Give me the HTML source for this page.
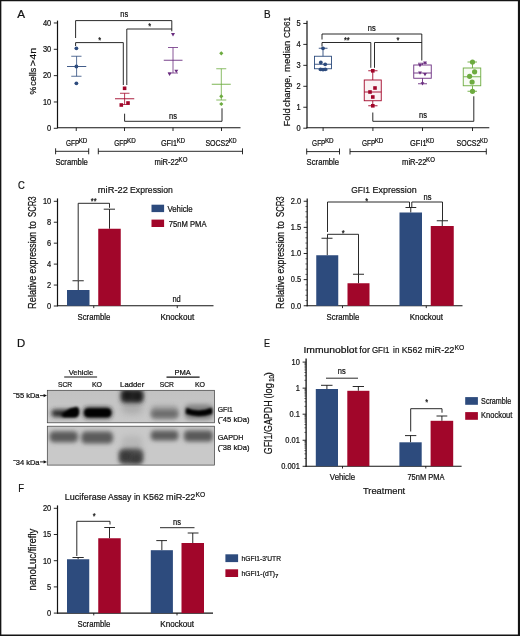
<!DOCTYPE html>
<html><head><meta charset="utf-8"><title>Figure</title>
<style>
html,body{margin:0;padding:0;background:#fff;}
body{width:520px;height:636px;overflow:hidden;position:relative;font-family:"Liberation Sans",sans-serif;}
svg{position:absolute;left:0;top:0;display:block;}
svg text{font-family:"Liberation Sans",sans-serif;stroke:#111;stroke-width:0.22px;}
</style></head><body>
<svg width="520" height="636" viewBox="0 0 520 636">
<rect x="0" y="0" width="520" height="636" fill="#fff"/>
<g opacity="0.996">
<text transform="translate(17.20 18.10) scale(1.0215 1)" font-size="11.45" fill="#111">A</text>
<text transform="translate(264.00 17.80) scale(0.8643 1)" font-size="11.45" fill="#111">B</text>
<text transform="translate(18.00 189.40) scale(0.8225 1)" font-size="11.45" fill="#111">C</text>
<text transform="translate(17.00 347.30) scale(0.9918 1)" font-size="11.45" fill="#111">D</text>
<text transform="translate(264.10 347.20) scale(0.7857 1)" font-size="11.45" fill="#111">E</text>
<text transform="translate(18.20 492.30) scale(0.8295 1)" font-size="11.45" fill="#111">F</text>
<line x1="57.50" y1="20.60" x2="57.50" y2="128.20" stroke="#111" stroke-width="1.20"/>
<line x1="57.00" y1="127.70" x2="240.50" y2="127.70" stroke="#111" stroke-width="1.10"/>
<line x1="53.80" y1="128.30" x2="57.50" y2="128.30" stroke="#111" stroke-width="0.90"/>
<text transform="translate(47.05 131.10) scale(0.9151 1)" font-size="8.16" fill="#111">0</text>
<line x1="53.80" y1="101.97" x2="57.50" y2="101.97" stroke="#111" stroke-width="0.90"/>
<text transform="translate(42.89 104.77) scale(0.9151 1)" font-size="8.16" fill="#111">10</text>
<line x1="53.80" y1="75.64" x2="57.50" y2="75.64" stroke="#111" stroke-width="0.90"/>
<text transform="translate(42.89 78.44) scale(0.9151 1)" font-size="8.16" fill="#111">20</text>
<line x1="53.80" y1="49.31" x2="57.50" y2="49.31" stroke="#111" stroke-width="0.90"/>
<text transform="translate(42.89 52.11) scale(0.9151 1)" font-size="8.16" fill="#111">30</text>
<line x1="53.80" y1="22.98" x2="57.50" y2="22.98" stroke="#111" stroke-width="0.90"/>
<text transform="translate(42.89 25.78) scale(0.9151 1)" font-size="8.16" fill="#111">40</text>
<line x1="76.25" y1="127.70" x2="76.25" y2="131.00" stroke="#111" stroke-width="0.90"/>
<line x1="124.50" y1="127.70" x2="124.50" y2="131.00" stroke="#111" stroke-width="0.90"/>
<line x1="173.00" y1="127.70" x2="173.00" y2="131.00" stroke="#111" stroke-width="0.90"/>
<line x1="221.50" y1="127.70" x2="221.50" y2="131.00" stroke="#111" stroke-width="0.90"/>
<text transform="translate(36.30 94.20) rotate(-90) translate(-0.40 0) scale(0.8803 1)" font-size="9.96" fill="#111">%</text>
<text transform="translate(36.30 85.40) rotate(-90) translate(-0.40 0) scale(0.9131 1)" font-size="9.96" fill="#111">cells</text>
<text transform="translate(36.30 65.80) rotate(-90) translate(-0.40 0) scale(1.0887 1)" font-size="9.96" fill="#111">&gt;4n</text>
<line x1="67.00" y1="66.50" x2="86.25" y2="66.50" stroke="#2c4a7c" stroke-width="0.90"/>
<line x1="76.60" y1="56.25" x2="76.60" y2="76.25" stroke="#2c4a7c" stroke-width="0.80"/>
<line x1="71.25" y1="56.25" x2="81.50" y2="56.25" stroke="#2c4a7c" stroke-width="0.80"/>
<line x1="71.25" y1="76.25" x2="81.50" y2="76.25" stroke="#2c4a7c" stroke-width="0.80"/>
<circle cx="76.40" cy="48.30" r="1.90" fill="#2c4a7c"/>
<circle cx="76.40" cy="66.50" r="1.90" fill="#2c4a7c"/>
<circle cx="76.40" cy="83.30" r="1.90" fill="#2c4a7c"/>
<line x1="115.00" y1="98.75" x2="134.25" y2="98.75" stroke="#a10529" stroke-width="0.90"/>
<line x1="124.60" y1="93.25" x2="124.60" y2="104.50" stroke="#a10529" stroke-width="0.80"/>
<line x1="120.00" y1="93.25" x2="129.50" y2="93.25" stroke="#a10529" stroke-width="0.80"/>
<line x1="120.00" y1="104.50" x2="129.50" y2="104.50" stroke="#a10529" stroke-width="0.80"/>
<rect x="122.80" y="86.50" width="3.60" height="3.60" fill="#a10529"/>
<rect x="119.50" y="103.20" width="3.60" height="3.60" fill="#a10529"/>
<rect x="126.20" y="101.20" width="3.60" height="3.60" fill="#a10529"/>
<line x1="163.75" y1="60.25" x2="182.50" y2="60.25" stroke="#6a2c7f" stroke-width="0.90"/>
<line x1="173.00" y1="47.50" x2="173.00" y2="73.00" stroke="#6a2c7f" stroke-width="0.80"/>
<line x1="168.00" y1="47.50" x2="178.00" y2="47.50" stroke="#6a2c7f" stroke-width="0.80"/>
<line x1="168.00" y1="73.00" x2="178.00" y2="73.00" stroke="#6a2c7f" stroke-width="0.80"/>
<path d="M171.00 33.00 L175.00 33.00 L173.00 36.40 Z" fill="#6a2c7f"/>
<path d="M167.60 72.60 L171.60 72.60 L169.60 76.00 Z" fill="#6a2c7f"/>
<path d="M174.30 69.70 L178.30 69.70 L176.30 73.10 Z" fill="#6a2c7f"/>
<line x1="211.75" y1="84.25" x2="230.75" y2="84.25" stroke="#6cab3f" stroke-width="0.90"/>
<line x1="221.30" y1="68.75" x2="221.30" y2="100.00" stroke="#6cab3f" stroke-width="0.80"/>
<line x1="216.25" y1="68.75" x2="226.25" y2="68.75" stroke="#6cab3f" stroke-width="0.80"/>
<line x1="216.25" y1="100.00" x2="226.25" y2="100.00" stroke="#6cab3f" stroke-width="0.80"/>
<path d="M219.20 53.30 L221.30 51.20 L223.40 53.30 L221.30 55.40 Z" fill="#6cab3f"/>
<path d="M219.20 96.30 L221.30 94.20 L223.40 96.30 L221.30 98.40 Z" fill="#6cab3f"/>
<path d="M219.20 104.00 L221.30 101.90 L223.40 104.00 L221.30 106.10 Z" fill="#6cab3f"/>
<path d="M75.6 38 V20.6 H171.8 V31.3" stroke="#111" stroke-width="0.90" fill="none"/>
<path d="M75.6 46 V42.6 H123.3 V85" stroke="#111" stroke-width="0.90" fill="none"/>
<path d="M126.8 85 V29 H171.8" stroke="#111" stroke-width="0.90" fill="none"/>
<path d="M124.6 113.7 V121.3 H222 V108.3" stroke="#111" stroke-width="0.90" fill="none"/>
<text transform="translate(120.36 16.90) scale(0.9151 1)" font-size="8.16" fill="#111">ns</text>
<text transform="translate(98.15 42.70) scale(0.9151 1)" font-size="8.16" fill="#111">*</text>
<text transform="translate(148.15 29.30) scale(0.9151 1)" font-size="8.16" fill="#111">*</text>
<text transform="translate(169.06 118.50) scale(0.9151 1)" font-size="8.16" fill="#111">ns</text>
<text transform="translate(65.90 145.50) scale(0.7927 1)" font-size="8.16" fill="#111">GFP</text>
<text transform="translate(78.70 142.50) scale(0.9837 1)" font-size="6.37" fill="#111">KD</text>
<text transform="translate(114.20 145.50) scale(0.7927 1)" font-size="8.16" fill="#111">GFP</text>
<text transform="translate(127.00 142.50) scale(0.9837 1)" font-size="6.37" fill="#111">KD</text>
<text transform="translate(160.90 145.50) scale(0.8986 1)" font-size="8.16" fill="#111">GFI1</text>
<text transform="translate(176.70 142.50) scale(0.9272 1)" font-size="6.37" fill="#111">KD</text>
<text transform="translate(205.40 145.50) scale(0.8601 1)" font-size="8.16" fill="#111">SOCS2</text>
<text transform="translate(228.70 142.50) scale(0.8819 1)" font-size="6.37" fill="#111">KD</text>
<path d="M55.6 148.3 V154.3 M55.6 151.3 H88.7 M88.7 148.3 V154.3" stroke="#111" stroke-width="0.90" fill="none"/>
<path d="M98.3 148.3 V154.3 M98.3 151.3 H242.5 M242.5 148.3 V154.3" stroke="#111" stroke-width="0.90" fill="none"/>
<text transform="translate(55.40 164.80) scale(0.9428 1)" font-size="8.16" fill="#111">Scramble</text>
<text transform="translate(154.60 165.00) scale(0.9315 1)" font-size="8.16" fill="#111">miR-22</text>
<text transform="translate(178.60 162.00) scale(0.9567 1)" font-size="6.37" fill="#111">KO</text>
<line x1="307.00" y1="20.70" x2="307.00" y2="128.20" stroke="#111" stroke-width="1.20"/>
<line x1="306.50" y1="127.70" x2="489.30" y2="127.70" stroke="#111" stroke-width="1.10"/>
<line x1="303.30" y1="128.20" x2="307.00" y2="128.20" stroke="#111" stroke-width="0.90"/>
<text transform="translate(296.55 131.00) scale(0.9151 1)" font-size="8.16" fill="#111">0</text>
<line x1="303.30" y1="107.25" x2="307.00" y2="107.25" stroke="#111" stroke-width="0.90"/>
<text transform="translate(296.55 110.05) scale(0.9151 1)" font-size="8.16" fill="#111">1</text>
<line x1="303.30" y1="86.30" x2="307.00" y2="86.30" stroke="#111" stroke-width="0.90"/>
<text transform="translate(296.55 89.10) scale(0.9151 1)" font-size="8.16" fill="#111">2</text>
<line x1="303.30" y1="65.35" x2="307.00" y2="65.35" stroke="#111" stroke-width="0.90"/>
<text transform="translate(296.55 68.15) scale(0.9151 1)" font-size="8.16" fill="#111">3</text>
<line x1="303.30" y1="44.40" x2="307.00" y2="44.40" stroke="#111" stroke-width="0.90"/>
<text transform="translate(296.55 47.20) scale(0.9151 1)" font-size="8.16" fill="#111">4</text>
<line x1="303.30" y1="23.45" x2="307.00" y2="23.45" stroke="#111" stroke-width="0.90"/>
<text transform="translate(296.55 26.25) scale(0.9151 1)" font-size="8.16" fill="#111">5</text>
<line x1="323.10" y1="127.70" x2="323.10" y2="131.00" stroke="#111" stroke-width="0.90"/>
<line x1="372.90" y1="127.70" x2="372.90" y2="131.00" stroke="#111" stroke-width="0.90"/>
<line x1="422.50" y1="127.70" x2="422.50" y2="131.00" stroke="#111" stroke-width="0.90"/>
<line x1="472.50" y1="127.70" x2="472.50" y2="131.00" stroke="#111" stroke-width="0.90"/>
<text transform="translate(289.90 126.10) rotate(-90) translate(-0.40 0) scale(0.9390 1)" font-size="9.96" fill="#111">Fold</text>
<text transform="translate(289.90 106.30) rotate(-90) translate(-0.40 0) scale(0.8856 1)" font-size="9.96" fill="#111">change,</text>
<text transform="translate(289.90 71.50) rotate(-90) translate(-0.40 0) scale(0.9609 1)" font-size="9.96" fill="#111">median</text>
<text transform="translate(289.90 37.60) rotate(-90) translate(-0.40 0) scale(0.8283 1)" font-size="9.96" fill="#111">CD61</text>
<rect x="314.50" y="56.25" width="17.00" height="12.50" fill="#2c4a7c" fill-opacity="0.00" stroke="#2c4a7c" stroke-width="0.9"/>
<line x1="314.50" y1="64.25" x2="331.50" y2="64.25" stroke="#2c4a7c" stroke-width="0.90"/>
<line x1="323.00" y1="48.25" x2="323.00" y2="56.25" stroke="#2c4a7c" stroke-width="0.90"/>
<line x1="323.00" y1="68.75" x2="323.00" y2="70.00" stroke="#2c4a7c" stroke-width="0.90"/>
<line x1="318.75" y1="48.25" x2="327.50" y2="48.25" stroke="#2c4a7c" stroke-width="0.90"/>
<line x1="318.75" y1="70.00" x2="327.50" y2="70.00" stroke="#2c4a7c" stroke-width="0.90"/>
<circle cx="323.00" cy="48.30" r="1.90" fill="#2c4a7c"/>
<circle cx="320.80" cy="62.50" r="1.90" fill="#2c4a7c"/>
<circle cx="325.20" cy="64.30" r="1.90" fill="#2c4a7c"/>
<circle cx="320.60" cy="69.30" r="1.90" fill="#2c4a7c"/>
<circle cx="323.00" cy="69.60" r="1.90" fill="#2c4a7c"/>
<circle cx="325.30" cy="69.30" r="1.90" fill="#2c4a7c"/>
<rect x="364.25" y="80.00" width="17.00" height="20.75" fill="#a10529" fill-opacity="0.05" stroke="#a10529" stroke-width="0.9"/>
<line x1="364.25" y1="92.00" x2="381.25" y2="92.00" stroke="#a10529" stroke-width="0.90"/>
<line x1="372.75" y1="70.75" x2="372.75" y2="80.00" stroke="#a10529" stroke-width="0.90"/>
<line x1="372.75" y1="100.75" x2="372.75" y2="105.75" stroke="#a10529" stroke-width="0.90"/>
<line x1="368.25" y1="70.75" x2="377.50" y2="70.75" stroke="#a10529" stroke-width="0.90"/>
<line x1="368.25" y1="105.75" x2="377.50" y2="105.75" stroke="#a10529" stroke-width="0.90"/>
<rect x="371.00" y="69.00" width="3.60" height="3.60" fill="#a10529"/>
<rect x="373.20" y="86.20" width="3.60" height="3.60" fill="#a10529"/>
<rect x="368.20" y="90.20" width="3.60" height="3.60" fill="#a10529"/>
<rect x="371.00" y="95.20" width="3.60" height="3.60" fill="#a10529"/>
<rect x="371.00" y="104.00" width="3.60" height="3.60" fill="#a10529"/>
<rect x="413.75" y="65.00" width="17.50" height="13.25" fill="#6a2c7f" fill-opacity="0.00" stroke="#6a2c7f" stroke-width="0.9"/>
<line x1="413.75" y1="73.00" x2="431.25" y2="73.00" stroke="#6a2c7f" stroke-width="0.90"/>
<line x1="422.50" y1="63.25" x2="422.50" y2="65.00" stroke="#6a2c7f" stroke-width="0.90"/>
<line x1="422.50" y1="78.25" x2="422.50" y2="83.75" stroke="#6a2c7f" stroke-width="0.90"/>
<line x1="418.00" y1="63.25" x2="427.00" y2="63.25" stroke="#6a2c7f" stroke-width="0.90"/>
<line x1="418.00" y1="83.75" x2="427.00" y2="83.75" stroke="#6a2c7f" stroke-width="0.90"/>
<path d="M423.10 61.48 L426.90 61.48 L425.00 64.71 Z" fill="#6a2c7f"/>
<path d="M418.10 64.08 L421.90 64.08 L420.00 67.31 Z" fill="#6a2c7f"/>
<path d="M423.10 73.08 L426.90 73.08 L425.00 76.31 Z" fill="#6a2c7f"/>
<path d="M418.10 71.48 L421.90 71.48 L420.00 74.71 Z" fill="#6a2c7f"/>
<path d="M420.60 82.28 L424.40 82.28 L422.50 85.51 Z" fill="#6a2c7f"/>
<rect x="463.25" y="68.00" width="17.50" height="17.75" fill="#6cab3f" fill-opacity="0.05" stroke="#6cab3f" stroke-width="0.9"/>
<line x1="463.25" y1="76.75" x2="480.75" y2="76.75" stroke="#6cab3f" stroke-width="0.90"/>
<line x1="472.50" y1="62.00" x2="472.50" y2="68.00" stroke="#6cab3f" stroke-width="0.90"/>
<line x1="472.50" y1="85.75" x2="472.50" y2="91.25" stroke="#6cab3f" stroke-width="0.90"/>
<line x1="467.50" y1="62.00" x2="477.00" y2="62.00" stroke="#6cab3f" stroke-width="0.90"/>
<line x1="467.50" y1="91.25" x2="477.00" y2="91.25" stroke="#6cab3f" stroke-width="0.90"/>
<circle cx="472.50" cy="62.00" r="2.60" fill="#6cab3f"/>
<circle cx="474.60" cy="71.80" r="2.60" fill="#6cab3f"/>
<circle cx="469.60" cy="76.30" r="2.60" fill="#6cab3f"/>
<circle cx="472.10" cy="82.00" r="2.60" fill="#6cab3f"/>
<circle cx="472.50" cy="91.30" r="2.60" fill="#6cab3f"/>
<path d="M322 39.5 V34 H421.8 V60.5" stroke="#111" stroke-width="0.90" fill="none"/>
<path d="M322 46.5 V42.5 H370.8 V67.8" stroke="#111" stroke-width="0.90" fill="none"/>
<path d="M374.5 67.8 V42.5 H421.8" stroke="#111" stroke-width="0.90" fill="none"/>
<path d="M372.8 112.5 V121.3 H473.8 V96.3" stroke="#111" stroke-width="0.90" fill="none"/>
<text transform="translate(367.86 31.10) scale(0.9151 1)" font-size="8.16" fill="#111">ns</text>
<text transform="translate(343.89 43.10) scale(0.9151 1)" font-size="8.16" fill="#111">**</text>
<text transform="translate(396.55 43.10) scale(0.9151 1)" font-size="8.16" fill="#111">*</text>
<text transform="translate(419.06 117.70) scale(0.9151 1)" font-size="8.16" fill="#111">ns</text>
<text transform="translate(312.10 145.50) scale(0.7927 1)" font-size="8.16" fill="#111">GFP</text>
<text transform="translate(324.90 142.50) scale(0.9837 1)" font-size="6.37" fill="#111">KD</text>
<text transform="translate(361.90 145.50) scale(0.7927 1)" font-size="8.16" fill="#111">GFP</text>
<text transform="translate(374.70 142.50) scale(0.9837 1)" font-size="6.37" fill="#111">KD</text>
<text transform="translate(410.10 145.50) scale(0.9096 1)" font-size="8.16" fill="#111">GFI1</text>
<text transform="translate(426.10 142.50) scale(0.9158 1)" font-size="6.37" fill="#111">KD</text>
<text transform="translate(456.60 145.50) scale(0.8601 1)" font-size="8.16" fill="#111">SOCS2</text>
<text transform="translate(479.90 142.50) scale(0.8819 1)" font-size="6.37" fill="#111">KD</text>
<path d="M306.7 148.5 V154.5 M306.7 151.6 H339.5 M339.5 148.5 V154.5" stroke="#111" stroke-width="0.90" fill="none"/>
<path d="M350 148.5 V154.5 M350 151.6 H486.3 M486.3 148.5 V154.5" stroke="#111" stroke-width="0.90" fill="none"/>
<text transform="translate(306.60 164.80) scale(0.9428 1)" font-size="8.16" fill="#111">Scramble</text>
<text transform="translate(402.10 165.30) scale(0.9315 1)" font-size="8.16" fill="#111">miR-22</text>
<text transform="translate(426.10 162.30) scale(0.9567 1)" font-size="6.37" fill="#111">KO</text>
<line x1="57.50" y1="198.40" x2="57.50" y2="306.30" stroke="#111" stroke-width="1.20"/>
<line x1="57.00" y1="305.80" x2="213.50" y2="305.80" stroke="#111" stroke-width="1.10"/>
<line x1="53.80" y1="306.00" x2="57.50" y2="306.00" stroke="#111" stroke-width="0.90"/>
<text transform="translate(47.05 308.80) scale(0.9151 1)" font-size="8.16" fill="#111">0</text>
<line x1="53.80" y1="285.06" x2="57.50" y2="285.06" stroke="#111" stroke-width="0.90"/>
<text transform="translate(47.05 287.86) scale(0.9151 1)" font-size="8.16" fill="#111">2</text>
<line x1="53.80" y1="264.12" x2="57.50" y2="264.12" stroke="#111" stroke-width="0.90"/>
<text transform="translate(47.05 266.92) scale(0.9151 1)" font-size="8.16" fill="#111">4</text>
<line x1="53.80" y1="243.18" x2="57.50" y2="243.18" stroke="#111" stroke-width="0.90"/>
<text transform="translate(47.05 245.98) scale(0.9151 1)" font-size="8.16" fill="#111">6</text>
<line x1="53.80" y1="222.24" x2="57.50" y2="222.24" stroke="#111" stroke-width="0.90"/>
<text transform="translate(47.05 225.04) scale(0.9151 1)" font-size="8.16" fill="#111">8</text>
<line x1="53.80" y1="201.30" x2="57.50" y2="201.30" stroke="#111" stroke-width="0.90"/>
<text transform="translate(42.89 204.10) scale(0.9151 1)" font-size="8.16" fill="#111">10</text>
<line x1="93.75" y1="305.80" x2="93.75" y2="308.10" stroke="#111" stroke-width="0.90"/>
<line x1="177.25" y1="305.80" x2="177.25" y2="308.10" stroke="#111" stroke-width="0.90"/>
<text transform="translate(36.20 308.50) rotate(-90) translate(-0.40 0) scale(0.9181 1)" font-size="10.07" fill="#111">Relative</text>
<text transform="translate(36.20 273.10) rotate(-90) translate(-0.40 0) scale(0.8564 1)" font-size="10.07" fill="#111">expression</text>
<text transform="translate(36.20 228.40) rotate(-90) translate(-0.40 0) scale(0.9289 1)" font-size="10.07" fill="#111">to</text>
<text transform="translate(36.20 216.60) rotate(-90) translate(-0.40 0) scale(0.7669 1)" font-size="10.07" fill="#111">SCR3</text>
<text transform="translate(97.85 192.80) scale(0.9359 1)" font-size="9.96" fill="#111">miR-22</text>
<text transform="translate(130.10 192.80) scale(0.8684 1)" font-size="9.96" fill="#111">Expression</text>
<line x1="78.25" y1="280.75" x2="78.25" y2="290.00" stroke="#111" stroke-width="0.90"/>
<line x1="72.50" y1="280.75" x2="83.75" y2="280.75" stroke="#111" stroke-width="0.90"/>
<rect x="67.00" y="290.00" width="22.50" height="15.80" fill="#2c4a7c"/>
<line x1="109.50" y1="209.20" x2="109.50" y2="228.75" stroke="#111" stroke-width="0.90"/>
<line x1="103.75" y1="209.20" x2="115.00" y2="209.20" stroke="#111" stroke-width="0.90"/>
<rect x="98.25" y="228.75" width="22.50" height="77.05" fill="#a10529"/>
<path d="M78.2 280 V203.3 H109.5 V207.8" stroke="#111" stroke-width="0.90" fill="none"/>
<text transform="translate(90.84 204.40) scale(0.9151 1)" font-size="8.16" fill="#111">**</text>
<text transform="translate(77.50 320.00) scale(0.9515 1)" font-size="8.16" fill="#111">Scramble</text>
<text transform="translate(160.40 320.00) scale(0.9933 1)" font-size="8.16" fill="#111">Knockout</text>
<text transform="translate(172.45 302.30) scale(0.9151 1)" font-size="8.16" fill="#111">nd</text>
<rect x="151.50" y="204.70" width="12.60" height="7.40" fill="#2c4a7c"/>
<text transform="translate(167.40 211.50) scale(0.9613 1)" font-size="8.16" fill="#111">Vehicle</text>
<rect x="151.50" y="219.60" width="12.60" height="7.40" fill="#a10529"/>
<text transform="translate(168.80 226.80) scale(0.9363 1)" font-size="8.16" fill="#111">75nM PMA</text>
<line x1="307.20" y1="198.40" x2="307.20" y2="306.30" stroke="#111" stroke-width="1.20"/>
<line x1="306.70" y1="305.80" x2="462.50" y2="305.80" stroke="#111" stroke-width="1.10"/>
<line x1="303.70" y1="305.75" x2="307.20" y2="305.75" stroke="#111" stroke-width="0.90"/>
<text transform="translate(290.82 308.55) scale(0.9151 1)" font-size="8.16" fill="#111">0.0</text>
<line x1="305.40" y1="300.52" x2="307.20" y2="300.52" stroke="#111" stroke-width="0.60"/>
<line x1="305.40" y1="295.30" x2="307.20" y2="295.30" stroke="#111" stroke-width="0.60"/>
<line x1="305.40" y1="290.07" x2="307.20" y2="290.07" stroke="#111" stroke-width="0.60"/>
<line x1="305.40" y1="284.85" x2="307.20" y2="284.85" stroke="#111" stroke-width="0.60"/>
<line x1="303.70" y1="279.62" x2="307.20" y2="279.62" stroke="#111" stroke-width="0.90"/>
<text transform="translate(290.82 282.43) scale(0.9151 1)" font-size="8.16" fill="#111">0.5</text>
<line x1="305.40" y1="274.40" x2="307.20" y2="274.40" stroke="#111" stroke-width="0.60"/>
<line x1="305.40" y1="269.18" x2="307.20" y2="269.18" stroke="#111" stroke-width="0.60"/>
<line x1="305.40" y1="263.95" x2="307.20" y2="263.95" stroke="#111" stroke-width="0.60"/>
<line x1="305.40" y1="258.73" x2="307.20" y2="258.73" stroke="#111" stroke-width="0.60"/>
<line x1="303.70" y1="253.50" x2="307.20" y2="253.50" stroke="#111" stroke-width="0.90"/>
<text transform="translate(290.82 256.30) scale(0.9151 1)" font-size="8.16" fill="#111">1.0</text>
<line x1="305.40" y1="248.28" x2="307.20" y2="248.28" stroke="#111" stroke-width="0.60"/>
<line x1="305.40" y1="243.05" x2="307.20" y2="243.05" stroke="#111" stroke-width="0.60"/>
<line x1="305.40" y1="237.82" x2="307.20" y2="237.82" stroke="#111" stroke-width="0.60"/>
<line x1="305.40" y1="232.60" x2="307.20" y2="232.60" stroke="#111" stroke-width="0.60"/>
<line x1="303.70" y1="227.38" x2="307.20" y2="227.38" stroke="#111" stroke-width="0.90"/>
<text transform="translate(290.82 230.18) scale(0.9151 1)" font-size="8.16" fill="#111">1.5</text>
<line x1="305.40" y1="222.15" x2="307.20" y2="222.15" stroke="#111" stroke-width="0.60"/>
<line x1="305.40" y1="216.93" x2="307.20" y2="216.93" stroke="#111" stroke-width="0.60"/>
<line x1="305.40" y1="211.70" x2="307.20" y2="211.70" stroke="#111" stroke-width="0.60"/>
<line x1="305.40" y1="206.47" x2="307.20" y2="206.47" stroke="#111" stroke-width="0.60"/>
<line x1="303.70" y1="201.25" x2="307.20" y2="201.25" stroke="#111" stroke-width="0.90"/>
<text transform="translate(290.82 204.05) scale(0.9151 1)" font-size="8.16" fill="#111">2.0</text>
<line x1="342.50" y1="305.80" x2="342.50" y2="308.10" stroke="#111" stroke-width="0.90"/>
<line x1="426.25" y1="305.80" x2="426.25" y2="308.10" stroke="#111" stroke-width="0.90"/>
<text transform="translate(283.70 308.50) rotate(-90) translate(-0.40 0) scale(0.9181 1)" font-size="10.07" fill="#111">Relative</text>
<text transform="translate(283.70 273.10) rotate(-90) translate(-0.40 0) scale(0.8564 1)" font-size="10.07" fill="#111">expression</text>
<text transform="translate(283.70 228.40) rotate(-90) translate(-0.40 0) scale(0.9289 1)" font-size="10.07" fill="#111">to</text>
<text transform="translate(283.70 216.60) rotate(-90) translate(-0.40 0) scale(0.7669 1)" font-size="10.07" fill="#111">SCR3</text>
<text transform="translate(351.35 193.10) scale(0.8377 1)" font-size="9.96" fill="#111">GFI1</text>
<text transform="translate(372.60 193.10) scale(0.8937 1)" font-size="9.96" fill="#111">Expression</text>
<line x1="327.25" y1="238.25" x2="327.25" y2="255.25" stroke="#111" stroke-width="0.90"/>
<line x1="321.50" y1="238.25" x2="332.50" y2="238.25" stroke="#111" stroke-width="0.90"/>
<rect x="316.25" y="255.25" width="22.00" height="50.55" fill="#2c4a7c"/>
<line x1="358.50" y1="274.25" x2="358.50" y2="283.25" stroke="#111" stroke-width="0.90"/>
<line x1="353.00" y1="274.25" x2="364.00" y2="274.25" stroke="#111" stroke-width="0.90"/>
<rect x="347.50" y="283.25" width="22.00" height="22.55" fill="#a10529"/>
<line x1="410.75" y1="207.50" x2="410.75" y2="212.50" stroke="#111" stroke-width="0.90"/>
<line x1="405.50" y1="207.50" x2="416.25" y2="207.50" stroke="#111" stroke-width="0.90"/>
<rect x="399.50" y="212.50" width="22.50" height="93.30" fill="#2c4a7c"/>
<line x1="442.25" y1="220.75" x2="442.25" y2="226.00" stroke="#111" stroke-width="0.90"/>
<line x1="436.75" y1="220.75" x2="448.00" y2="220.75" stroke="#111" stroke-width="0.90"/>
<rect x="430.75" y="226.00" width="23.00" height="79.80" fill="#a10529"/>
<path d="M327.5 232 V202 H409.5 V207" stroke="#111" stroke-width="0.90" fill="none"/>
<path d="M327.5 238 V234.3 H358.5 V274" stroke="#111" stroke-width="0.90" fill="none"/>
<path d="M411.8 207 V202 H442.5 V220.5" stroke="#111" stroke-width="0.90" fill="none"/>
<text transform="translate(341.85 236.10) scale(0.9151 1)" font-size="8.16" fill="#111">*</text>
<text transform="translate(365.35 203.70) scale(0.9151 1)" font-size="8.16" fill="#111">*</text>
<text transform="translate(423.56 200.00) scale(0.9151 1)" font-size="8.16" fill="#111">ns</text>
<text transform="translate(326.60 320.00) scale(0.9515 1)" font-size="8.16" fill="#111">Scramble</text>
<text transform="translate(409.65 320.00) scale(0.9786 1)" font-size="8.16" fill="#111">Knockout</text>
<defs>
<filter id="b0" x="-30%" y="-80%" width="160%" height="260%"><feGaussianBlur stdDeviation="0.9"/></filter>
<filter id="b1" x="-30%" y="-80%" width="160%" height="260%"><feGaussianBlur stdDeviation="1.4"/></filter>
<filter id="b2" x="-30%" y="-80%" width="160%" height="260%"><feGaussianBlur stdDeviation="2.2"/></filter>
<filter id="b3" x="-50%" y="-60%" width="200%" height="220%"><feGaussianBlur stdDeviation="3.4"/></filter>
<clipPath id="cu"><rect x="47.3" y="390.3" width="167.1" height="32.5"/></clipPath>
<clipPath id="cl"><rect x="47.3" y="426.2" width="167.1" height="38.9"/></clipPath>
<linearGradient id="gu" x1="0" y1="0" x2="0" y2="1"><stop offset="0" stop-color="#c2c2c2"/><stop offset="1" stop-color="#c9c9c9"/></linearGradient>
</defs>
<rect x="47.30" y="390.30" width="167.10" height="32.50" fill="url(#gu)"/>
<rect x="47.30" y="426.20" width="167.10" height="38.90" fill="#c9c9c9"/>
<g clip-path="url(#cu)">
<rect x="122.00" y="400.00" width="20.00" height="14.00" rx="5.00" fill="#9a9a9a" opacity="0.55" filter="url(#b3)"/>
<rect x="120.50" y="389.00" width="23.00" height="14.00" rx="4.50" fill="#2e2e2e" opacity="1.00" filter="url(#b2)"/>
<rect x="123.00" y="391.50" width="9.00" height="7.50" rx="3.00" fill="#000" opacity="0.50" filter="url(#b2)"/>
<rect x="133.00" y="392.00" width="9.00" height="8.00" rx="3.00" fill="#000" opacity="0.45" filter="url(#b2)"/>
<rect x="51.50" y="409.60" width="26.50" height="7.40" rx="3.40" fill="#2e2e2e" opacity="1.00" filter="url(#b2)"/>
<path d="M62 414.5 L70 409 L76.5 407.2 Q79 407.5 78.6 412 Q78.6 416.6 75 416.8 L64 416.8 Z" fill="#000" filter="url(#b0)"/>
<path d="M60 414.5 L70 408.5 L77 407 Q79.5 407.5 79 412 Q79 417 75 417.2 L62 417.2 Z" fill="#000" opacity="0.55" filter="url(#b1)"/>
<rect x="83.30" y="407.30" width="28.70" height="10.90" rx="4.50" fill="#222" opacity="1.00" filter="url(#b2)"/>
<rect x="84.60" y="408.80" width="26.20" height="8.00" rx="3.80" fill="#000" opacity="1.00" filter="url(#b0)"/>
<rect x="150.50" y="405.50" width="28.30" height="14.00" rx="5.00" fill="#9c9c9c" opacity="0.90" filter="url(#b2)"/>
<rect x="151.50" y="410.00" width="26.30" height="7.80" rx="3.50" fill="#6a6a6a" opacity="1.00" filter="url(#b2)"/>
<rect x="184.50" y="404.50" width="28.50" height="15.00" rx="5.00" fill="#7e7e7e" opacity="0.95" filter="url(#b2)"/>
<path d="M186.6 408.2 Q199 413.4 211.6 408 L212 413.4 Q199 418 186.2 413.6 Z" fill="#000" filter="url(#b0)"/>
<path d="M186 408 Q199 414 212 407.8 L212.4 413.6 Q199 418.6 185.8 413.8 Z" fill="#000" opacity="0.6" filter="url(#b1)"/>
</g>
<g clip-path="url(#cl)">
<rect x="122.00" y="436.00" width="20.00" height="16.00" rx="5.00" fill="#a6a6a6" opacity="0.50" filter="url(#b3)"/>
<rect x="118.50" y="448.50" width="25.00" height="16.00" rx="5.50" fill="#505050" opacity="1.00" filter="url(#b2)"/>
<rect x="121.00" y="452.00" width="10.00" height="9.00" rx="3.50" fill="#1a1a1a" opacity="0.45" filter="url(#b2)"/>
<rect x="131.00" y="454.00" width="10.00" height="9.00" rx="3.50" fill="#1a1a1a" opacity="0.40" filter="url(#b2)"/>
<rect x="49.50" y="431.20" width="28.50" height="11.00" rx="4.50" fill="#5a5a5a" opacity="1.00" filter="url(#b2)"/>
<rect x="81.30" y="431.60" width="31.70" height="12.00" rx="4.50" fill="#5a5a5a" opacity="1.00" filter="url(#b2)"/>
<rect x="150.80" y="430.60" width="27.60" height="10.00" rx="4.00" fill="#5c5c5c" opacity="1.00" filter="url(#b2)"/>
<rect x="184.00" y="430.40" width="28.80" height="11.00" rx="4.00" fill="#585858" opacity="1.00" filter="url(#b2)"/>
</g>
<rect x="47.3" y="390.3" width="167.1" height="32.5" fill="none" stroke="#3a3a3a" stroke-width="0.7"/>
<rect x="47.3" y="426.2" width="167.1" height="38.9" fill="none" stroke="#3a3a3a" stroke-width="0.7"/>
<text transform="translate(68.70 374.70) scale(1.0054 1)" font-size="7.53" fill="#111">Vehicle</text>
<line x1="64.20" y1="377.00" x2="97.10" y2="377.00" stroke="#111" stroke-width="1.10"/>
<text transform="translate(174.50 374.80) scale(1.0056 1)" font-size="7.53" fill="#111">PMA</text>
<line x1="166.50" y1="377.10" x2="199.60" y2="377.10" stroke="#111" stroke-width="1.10"/>
<text transform="translate(57.90 386.70) scale(0.8936 1)" font-size="7.53" fill="#111">SCR</text>
<text transform="translate(91.90 386.70) scale(0.9380 1)" font-size="7.53" fill="#111">KO</text>
<text transform="translate(120.10 386.90) scale(1.0328 1)" font-size="7.53" fill="#111">Ladder</text>
<text transform="translate(159.70 386.70) scale(0.8936 1)" font-size="7.53" fill="#111">SCR</text>
<text transform="translate(194.90 386.70) scale(0.9380 1)" font-size="7.53" fill="#111">KO</text>
<text transform="translate(13.20 398.30) scale(1.0019 1)" font-size="7.53" fill="#111">˜55 kDa</text>
<text transform="translate(13.20 464.60) scale(1.0019 1)" font-size="7.53" fill="#111">˜34 kDa</text>
<line x1="40.00" y1="395.60" x2="45.00" y2="395.60" stroke="#111" stroke-width="0.90"/>
<path d="M43.60 394.00 L47.00 395.60 L43.60 397.20 Z" fill="#111"/>
<line x1="40.00" y1="461.90" x2="45.00" y2="461.90" stroke="#111" stroke-width="0.90"/>
<path d="M43.60 460.30 L47.00 461.90 L43.60 463.50 Z" fill="#111"/>
<text transform="translate(217.70 411.90) scale(0.9087 1)" font-size="7.53" fill="#111">GFI1</text>
<text transform="translate(217.70 422.20) scale(1.0140 1)" font-size="7.53" fill="#111">(˜45 kDa)</text>
<text transform="translate(217.70 440.10) scale(0.9640 1)" font-size="7.53" fill="#111">GAPDH</text>
<text transform="translate(217.70 449.80) scale(1.0140 1)" font-size="7.53" fill="#111">(˜38 kDa)</text>
<line x1="306.10" y1="358.60" x2="306.10" y2="466.70" stroke="#111" stroke-width="1.30"/>
<line x1="305.60" y1="466.20" x2="461.60" y2="466.20" stroke="#111" stroke-width="1.10"/>
<line x1="302.60" y1="466.30" x2="306.10" y2="466.30" stroke="#111" stroke-width="0.90"/>
<text transform="translate(281.21 469.10) scale(0.9151 1)" font-size="8.16" fill="#111">0.001</text>
<line x1="304.40" y1="458.46" x2="306.10" y2="458.46" stroke="#111" stroke-width="0.60"/>
<line x1="304.40" y1="453.87" x2="306.10" y2="453.87" stroke="#111" stroke-width="0.60"/>
<line x1="304.40" y1="450.62" x2="306.10" y2="450.62" stroke="#111" stroke-width="0.60"/>
<line x1="304.40" y1="448.09" x2="306.10" y2="448.09" stroke="#111" stroke-width="0.60"/>
<line x1="304.40" y1="446.03" x2="306.10" y2="446.03" stroke="#111" stroke-width="0.60"/>
<line x1="304.40" y1="444.29" x2="306.10" y2="444.29" stroke="#111" stroke-width="0.60"/>
<line x1="304.40" y1="442.77" x2="306.10" y2="442.77" stroke="#111" stroke-width="0.60"/>
<line x1="304.40" y1="441.44" x2="306.10" y2="441.44" stroke="#111" stroke-width="0.60"/>
<line x1="302.60" y1="440.25" x2="306.10" y2="440.25" stroke="#111" stroke-width="0.90"/>
<text transform="translate(285.36 443.05) scale(0.9151 1)" font-size="8.16" fill="#111">0.01</text>
<line x1="304.40" y1="432.41" x2="306.10" y2="432.41" stroke="#111" stroke-width="0.60"/>
<line x1="304.40" y1="427.82" x2="306.10" y2="427.82" stroke="#111" stroke-width="0.60"/>
<line x1="304.40" y1="424.57" x2="306.10" y2="424.57" stroke="#111" stroke-width="0.60"/>
<line x1="304.40" y1="422.04" x2="306.10" y2="422.04" stroke="#111" stroke-width="0.60"/>
<line x1="304.40" y1="419.98" x2="306.10" y2="419.98" stroke="#111" stroke-width="0.60"/>
<line x1="304.40" y1="418.24" x2="306.10" y2="418.24" stroke="#111" stroke-width="0.60"/>
<line x1="304.40" y1="416.72" x2="306.10" y2="416.72" stroke="#111" stroke-width="0.60"/>
<line x1="304.40" y1="415.39" x2="306.10" y2="415.39" stroke="#111" stroke-width="0.60"/>
<line x1="302.60" y1="414.20" x2="306.10" y2="414.20" stroke="#111" stroke-width="0.90"/>
<text transform="translate(289.52 417.00) scale(0.9151 1)" font-size="8.16" fill="#111">0.1</text>
<line x1="304.40" y1="406.36" x2="306.10" y2="406.36" stroke="#111" stroke-width="0.60"/>
<line x1="304.40" y1="401.77" x2="306.10" y2="401.77" stroke="#111" stroke-width="0.60"/>
<line x1="304.40" y1="398.52" x2="306.10" y2="398.52" stroke="#111" stroke-width="0.60"/>
<line x1="304.40" y1="395.99" x2="306.10" y2="395.99" stroke="#111" stroke-width="0.60"/>
<line x1="304.40" y1="393.93" x2="306.10" y2="393.93" stroke="#111" stroke-width="0.60"/>
<line x1="304.40" y1="392.19" x2="306.10" y2="392.19" stroke="#111" stroke-width="0.60"/>
<line x1="304.40" y1="390.67" x2="306.10" y2="390.67" stroke="#111" stroke-width="0.60"/>
<line x1="304.40" y1="389.34" x2="306.10" y2="389.34" stroke="#111" stroke-width="0.60"/>
<line x1="302.60" y1="388.15" x2="306.10" y2="388.15" stroke="#111" stroke-width="0.90"/>
<text transform="translate(295.75 390.95) scale(0.9151 1)" font-size="8.16" fill="#111">1</text>
<line x1="304.40" y1="380.31" x2="306.10" y2="380.31" stroke="#111" stroke-width="0.60"/>
<line x1="304.40" y1="375.72" x2="306.10" y2="375.72" stroke="#111" stroke-width="0.60"/>
<line x1="304.40" y1="372.47" x2="306.10" y2="372.47" stroke="#111" stroke-width="0.60"/>
<line x1="304.40" y1="369.94" x2="306.10" y2="369.94" stroke="#111" stroke-width="0.60"/>
<line x1="304.40" y1="367.88" x2="306.10" y2="367.88" stroke="#111" stroke-width="0.60"/>
<line x1="304.40" y1="366.14" x2="306.10" y2="366.14" stroke="#111" stroke-width="0.60"/>
<line x1="304.40" y1="364.62" x2="306.10" y2="364.62" stroke="#111" stroke-width="0.60"/>
<line x1="304.40" y1="363.29" x2="306.10" y2="363.29" stroke="#111" stroke-width="0.60"/>
<line x1="302.60" y1="362.10" x2="306.10" y2="362.10" stroke="#111" stroke-width="0.90"/>
<text transform="translate(291.59 364.90) scale(0.9151 1)" font-size="8.16" fill="#111">10</text>
<line x1="342.50" y1="466.20" x2="342.50" y2="468.50" stroke="#111" stroke-width="0.90"/>
<line x1="425.80" y1="466.20" x2="425.80" y2="468.50" stroke="#111" stroke-width="0.90"/>
<text transform="translate(303.40 353.20) scale(1.0505 1)" font-size="9.86" fill="#111">Immunoblot</text>
<text transform="translate(359.30 353.20) scale(0.9302 1)" font-size="9.86" fill="#111">for</text>
<text transform="translate(371.90 353.20) scale(0.8033 1)" font-size="9.86" fill="#111">GFI1</text>
<text transform="translate(393.10 353.20) scale(0.8211 1)" font-size="9.86" fill="#111">in</text>
<text transform="translate(401.70 353.20) scale(0.8992 1)" font-size="9.86" fill="#111">K562</text>
<text transform="translate(424.90 353.20) scale(0.9286 1)" font-size="9.86" fill="#111">miR-22</text>
<text transform="translate(454.40 350.20) scale(0.8532 1)" font-size="7.95" fill="#111">KO</text>
<line x1="326.90" y1="385.30" x2="326.90" y2="389.00" stroke="#111" stroke-width="0.90"/>
<line x1="321.00" y1="385.30" x2="332.50" y2="385.30" stroke="#111" stroke-width="0.90"/>
<rect x="315.80" y="389.00" width="22.20" height="77.20" fill="#2c4a7c"/>
<line x1="358.35" y1="386.50" x2="358.35" y2="390.80" stroke="#111" stroke-width="0.90"/>
<line x1="352.70" y1="386.50" x2="364.00" y2="386.50" stroke="#111" stroke-width="0.90"/>
<rect x="347.30" y="390.80" width="22.10" height="75.40" fill="#a10529"/>
<line x1="410.55" y1="435.60" x2="410.55" y2="442.30" stroke="#111" stroke-width="0.90"/>
<line x1="405.00" y1="435.60" x2="416.30" y2="435.60" stroke="#111" stroke-width="0.90"/>
<rect x="399.40" y="442.30" width="22.30" height="23.90" fill="#2c4a7c"/>
<line x1="441.90" y1="416.00" x2="441.90" y2="420.80" stroke="#111" stroke-width="0.90"/>
<line x1="436.50" y1="416.00" x2="447.30" y2="416.00" stroke="#111" stroke-width="0.90"/>
<rect x="430.60" y="420.80" width="22.60" height="45.40" fill="#a10529"/>
<line x1="326.00" y1="378.20" x2="358.00" y2="378.20" stroke="#111" stroke-width="0.90"/>
<text transform="translate(337.86 374.00) scale(0.9151 1)" font-size="8.16" fill="#111">ns</text>
<path d="M410.7 431.5 V408.7 H442 V412.7" stroke="#111" stroke-width="0.90" fill="none"/>
<text transform="translate(425.15 404.70) scale(0.9151 1)" font-size="8.16" fill="#111">*</text>
<text transform="translate(329.85 480.10) scale(0.9613 1)" font-size="8.16" fill="#111">Vehicle</text>
<text transform="translate(407.40 480.10) scale(0.9215 1)" font-size="8.16" fill="#111">75nM PMA</text>
<text transform="translate(362.90 493.50) scale(0.9494 1)" font-size="9.86" fill="#111">Treatment</text>
<text transform="translate(271.80 453.80) rotate(-90) translate(-0.40 0) scale(0.8821 1)" font-size="10.07" fill="#111">GFI1/GAPDH</text>
<text transform="translate(271.80 398.10) rotate(-90) translate(-0.40 0) scale(0.9053 1)" font-size="10.07" fill="#111">(log</text>
<text transform="translate(273.80 381.40) rotate(-90) translate(-0.40 0) scale(0.9613 1)" font-size="6.36" fill="#111">10</text>
<text transform="translate(271.80 375.40) rotate(-90) translate(-0.40 0) scale(1.1333 1)" font-size="10.07" fill="#111">)</text>
<rect x="465.20" y="397.10" width="12.70" height="7.70" fill="#2c4a7c"/>
<text transform="translate(481.10 404.30) scale(0.8790 1)" font-size="8.16" fill="#111">Scramble</text>
<rect x="465.20" y="412.10" width="12.70" height="7.70" fill="#a10529"/>
<text transform="translate(481.10 417.90) scale(0.9198 1)" font-size="8.16" fill="#111">Knockout</text>
<line x1="57.50" y1="505.40" x2="57.50" y2="613.60" stroke="#111" stroke-width="1.20"/>
<line x1="57.00" y1="613.10" x2="213.00" y2="613.10" stroke="#111" stroke-width="1.10"/>
<line x1="53.80" y1="613.10" x2="57.50" y2="613.10" stroke="#111" stroke-width="0.90"/>
<text transform="translate(47.05 615.90) scale(0.9151 1)" font-size="8.16" fill="#111">0</text>
<line x1="53.80" y1="586.90" x2="57.50" y2="586.90" stroke="#111" stroke-width="0.90"/>
<text transform="translate(47.05 589.70) scale(0.9151 1)" font-size="8.16" fill="#111">5</text>
<line x1="53.80" y1="560.70" x2="57.50" y2="560.70" stroke="#111" stroke-width="0.90"/>
<text transform="translate(42.89 563.50) scale(0.9151 1)" font-size="8.16" fill="#111">10</text>
<line x1="53.80" y1="534.50" x2="57.50" y2="534.50" stroke="#111" stroke-width="0.90"/>
<text transform="translate(42.89 537.30) scale(0.9151 1)" font-size="8.16" fill="#111">15</text>
<line x1="53.80" y1="508.30" x2="57.50" y2="508.30" stroke="#111" stroke-width="0.90"/>
<text transform="translate(42.89 511.10) scale(0.9151 1)" font-size="8.16" fill="#111">20</text>
<line x1="93.75" y1="613.10" x2="93.75" y2="615.40" stroke="#111" stroke-width="0.90"/>
<line x1="177.00" y1="613.10" x2="177.00" y2="615.40" stroke="#111" stroke-width="0.90"/>
<text transform="translate(36.10 559.50) rotate(-90) translate(-30.90 0) scale(0.9437 1)" font-size="10.07" fill="#111">nanoLuc/firefly</text>
<text transform="translate(64.80 499.80) scale(0.9103 1)" font-size="9.86" fill="#111">Luciferase</text>
<text transform="translate(108.00 499.80) scale(0.8680 1)" font-size="9.86" fill="#111">Assay</text>
<text transform="translate(133.90 499.80) scale(0.8211 1)" font-size="9.86" fill="#111">in</text>
<text transform="translate(143.10 499.80) scale(0.8992 1)" font-size="9.86" fill="#111">K562</text>
<text transform="translate(166.10 499.80) scale(0.9223 1)" font-size="9.86" fill="#111">miR-22</text>
<text transform="translate(195.60 496.80) scale(0.8445 1)" font-size="7.95" fill="#111">KO</text>
<line x1="78.12" y1="557.50" x2="78.12" y2="559.25" stroke="#111" stroke-width="0.90"/>
<line x1="72.50" y1="557.50" x2="83.75" y2="557.50" stroke="#111" stroke-width="0.90"/>
<rect x="67.00" y="559.25" width="22.25" height="53.85" fill="#2c4a7c"/>
<line x1="109.50" y1="527.50" x2="109.50" y2="538.25" stroke="#111" stroke-width="0.90"/>
<line x1="104.25" y1="527.50" x2="115.00" y2="527.50" stroke="#111" stroke-width="0.90"/>
<rect x="98.25" y="538.25" width="22.50" height="74.85" fill="#a10529"/>
<line x1="161.85" y1="540.60" x2="161.85" y2="550.20" stroke="#111" stroke-width="0.90"/>
<line x1="156.30" y1="540.60" x2="167.00" y2="540.60" stroke="#111" stroke-width="0.90"/>
<rect x="150.80" y="550.20" width="22.10" height="62.90" fill="#2c4a7c"/>
<line x1="192.75" y1="533.00" x2="192.75" y2="543.00" stroke="#111" stroke-width="0.90"/>
<line x1="187.70" y1="533.00" x2="198.50" y2="533.00" stroke="#111" stroke-width="0.90"/>
<rect x="181.50" y="543.00" width="22.50" height="70.10" fill="#a10529"/>
<path d="M76.8 556 V521.3 H110 V524.5" stroke="#111" stroke-width="0.90" fill="none"/>
<text transform="translate(92.85 519.10) scale(0.9151 1)" font-size="8.16" fill="#111">*</text>
<line x1="160.00" y1="527.70" x2="194.50" y2="527.70" stroke="#111" stroke-width="0.90"/>
<text transform="translate(173.06 524.50) scale(0.9151 1)" font-size="8.16" fill="#111">ns</text>
<text transform="translate(77.50 627.10) scale(0.9515 1)" font-size="8.16" fill="#111">Scramble</text>
<text transform="translate(160.30 627.30) scale(0.9933 1)" font-size="8.16" fill="#111">Knockout</text>
<rect x="225.40" y="554.30" width="12.70" height="7.80" fill="#2c4a7c"/>
<text transform="translate(241.50 561.40) scale(0.9025 1)" font-size="7.42" fill="#111">hGFI1-3'UTR</text>
<rect x="225.40" y="569.30" width="12.70" height="7.70" fill="#a10529"/>
<text transform="translate(241.50 576.40) scale(0.9158 1)" font-size="7.42" fill="#111">hGFI1-(dT)</text>
<text transform="translate(275.00 578.10) scale(1.0681 1)" font-size="5.72" fill="#111">7</text>
</g>
<path d="M0.6 0 V636 M0 0.5 H520 M0 635.2 H520" stroke="#141414" stroke-width="1.5" fill="none"/><rect x="517.9" y="0" width="2.1" height="636" fill="#141414"/>
</svg>
</body></html>
